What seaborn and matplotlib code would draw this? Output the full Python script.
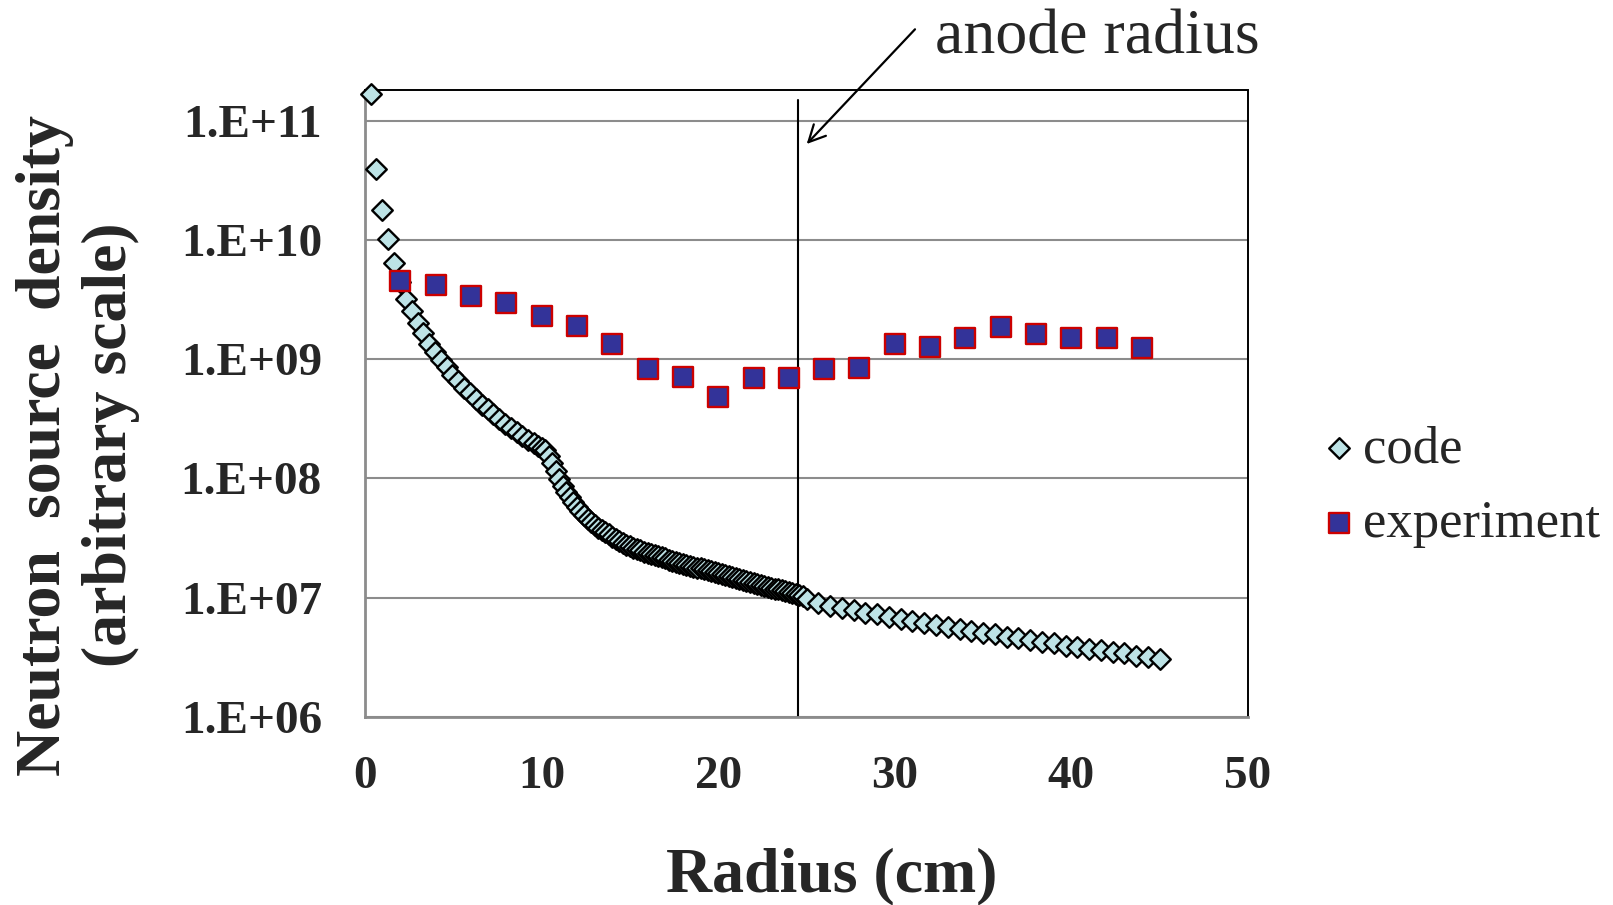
import numpy as np
import pandas as pd
import matplotlib
matplotlib.use("Agg")
import matplotlib.pyplot as plt
from matplotlib.ticker import FixedLocator, FuncFormatter, NullLocator
import seaborn as sns

# ---- simulated neutron source density (code), radius in cm, log10 of density ----
code_r_inner = [0.32, 0.64, 0.96, 1.30, 1.63, 1.96, 2.30, 2.64, 2.98, 3.30,
                3.64, 3.96, 4.28, 4.62, 4.95, 5.28, 5.61, 5.95, 6.29, 6.61,
                6.94, 7.27, 7.59, 7.93, 8.26, 8.59, 8.91, 9.25, 9.57]
code_log_inner = [11.221, 10.598, 10.249, 10.003, 9.807, 9.650, 9.508, 9.400, 9.303, 9.215,
                  9.131, 9.060, 8.991, 8.930, 8.871, 8.815, 8.762, 8.712, 8.664, 8.619,
                  8.580, 8.536, 8.496, 8.460, 8.423, 8.390, 8.354, 8.320, 8.293]

code_r_mid = [9.8, 10.0, 10.2, 10.4, 10.6, 10.8, 11.0, 11.2, 11.4, 11.6,
              11.8, 12.0, 12.2, 12.4, 12.6, 12.8, 13.0, 13.2, 13.4, 13.6,
              13.8, 14.0, 14.2, 14.4, 14.6, 14.8, 15.0, 15.2, 15.4, 15.6,
              15.8, 16.0, 16.2, 16.4, 16.6, 16.8, 17.0, 17.2, 17.4, 17.6,
              17.8, 18.0, 18.2, 18.4, 18.6, 18.8, 19.0, 19.2, 19.4, 19.6,
              19.8, 20.0, 20.2, 20.4, 20.6, 20.8, 21.0, 21.2, 21.4, 21.6,
              21.8, 22.0, 22.2, 22.4, 22.6, 22.8, 23.0, 23.2, 23.4, 23.6,
              23.8, 24.0, 24.2, 24.4, 24.6, 24.8]
code_log_mid = [8.270, 8.255, 8.235, 8.190, 8.130, 8.060, 7.995, 7.940, 7.890, 7.845,
                7.800, 7.760, 7.725, 7.690, 7.660, 7.635, 7.610, 7.588, 7.568, 7.550,
                7.530, 7.510, 7.490, 7.472, 7.458, 7.445, 7.432, 7.420, 7.408, 7.397,
                7.387, 7.377, 7.367, 7.357, 7.347, 7.338, 7.329, 7.320, 7.311, 7.302,
                7.294, 7.286, 7.278, 7.270, 7.261, 7.253, 7.245, 7.237, 7.229, 7.220,
                7.212, 7.204, 7.196, 7.188, 7.180, 7.172, 7.164, 7.156, 7.148, 7.140,
                7.132, 7.124, 7.116, 7.108, 7.100, 7.093, 7.085, 7.077, 7.069, 7.061,
                7.053, 7.045, 7.037, 7.029, 7.021, 7.013]

code_r_outer = [25.00, 25.67, 26.33, 27.00, 27.67, 28.33, 29.00, 29.67, 30.33, 31.00,
                31.67, 32.33, 33.00, 33.67, 34.33, 35.00, 35.67, 36.33, 37.00, 37.67,
                38.33, 39.00, 39.67, 40.33, 41.00, 41.67, 42.33, 43.00, 43.67, 44.33,
                45.00]
code_log_outer = [6.987, 6.958, 6.933, 6.916, 6.897, 6.874, 6.863, 6.841, 6.821, 6.807,
                  6.790, 6.771, 6.757, 6.738, 6.721, 6.707, 6.696, 6.673, 6.660, 6.645,
                  6.631, 6.618, 6.598, 6.584, 6.570, 6.562, 6.547, 6.534, 6.514, 6.500,
                  6.484]

# ---- measured neutron source density (experiment) ----
exp_r = [2, 4, 6, 8, 10, 12, 14, 16, 18, 20, 22,
         24, 26, 28, 30, 32, 34, 36, 38, 40, 42, 44]
exp_density = [4.48e9, 4.20e9, 3.40e9, 2.97e9, 2.30e9, 1.90e9, 1.33e9, 8.2e8, 7.1e8, 4.8e8, 7.0e8,
               7.0e8, 8.2e8, 8.5e8, 1.35e9, 1.27e9, 1.51e9, 1.85e9, 1.63e9, 1.50e9, 1.50e9, 1.25e9]

anode_radius = 24.5
y_ticks = [1e6, 1e7, 1e8, 1e9, 1e10, 1e11]
x_ticks = [0, 10, 20, 30, 40, 50]

code = pd.DataFrame({
    "radius": code_r_inner + code_r_mid + code_r_outer,
    "density": 10.0 ** np.array(code_log_inner + code_log_mid + code_log_outer),
})
experiment = pd.DataFrame({"radius": exp_r, "density": exp_density})

sns.set_theme(style="white")
plt.rcParams["font.family"] = ["Liberation Serif", "DejaVu Serif"]

W, H = 1613, 905
fig = plt.figure(figsize=(W / 100, H / 100), dpi=100)
ax = fig.add_axes([365 / W, 1 - 717 / H, (1248 - 365) / W, (717 - 90.5) / H])

sns.scatterplot(data=code, x="radius", y="density", marker="D", s=110,
                color="#BDE3E6", edgecolor="black", linewidth=1.7,
                label="code", ax=ax, zorder=3, clip_on=False)
sns.scatterplot(data=experiment, x="radius", y="density", marker="s", s=195,
                color="#333399", edgecolor="#CC0000", linewidth=1.7,
                label="experiment", ax=ax, zorder=4)

ax.set_yscale("log")
ax.set_xlim(0, 50)
ax.set_ylim(1e6, 10 ** 11.252)
ax.yaxis.set_major_locator(FixedLocator(y_ticks))
ax.yaxis.set_minor_locator(NullLocator())
ax.yaxis.set_major_formatter(FuncFormatter(lambda v, p: f"1.E+{int(round(np.log10(v))):02d}"))
ax.xaxis.set_major_locator(FixedLocator(x_ticks))

ax.grid(False)
ax.yaxis.grid(True, color="#8C8C8C", linewidth=1.5)
ax.set_axisbelow(True)

for side in ("left", "bottom"):
    ax.spines[side].set_color("#8C8C8C")
    ax.spines[side].set_linewidth(2.0)
for side in ("top", "right"):
    ax.spines[side].set_color("black")
    ax.spines[side].set_linewidth(1.4)

ax.tick_params(axis="y", which="major", length=4, width=1.5, color="#8C8C8C",
               pad=27, labelsize=34)
ax.tick_params(axis="x", which="major", length=0, pad=28, labelsize=34)
for lbl in ax.get_xticklabels() + ax.get_yticklabels():
    lbl.set_fontweight("bold")

# anode position marker
ax.axvline(anode_radius, ymin=0, ymax=0.985, color="black", linewidth=1.5, zorder=2)

ax.set_xlabel("Radius (cm)", fontsize=46, fontweight="bold")
ax.xaxis.label.set_verticalalignment("center")
ax.xaxis.set_label_coords(0.529, -0.254)
ax.set_ylabel("Neutron  source  density\n(arbitrary scale)", fontsize=46,
              fontweight="bold", linespacing=1.17)
ax.yaxis.label.set_verticalalignment("center")
ax.yaxis.set_label_coords(-0.325, 0.434)

# annotation arrow for the anode radius
ax.annotate("", xy=(806.7 / W, 1 - 144 / H), xycoords="figure fraction",
            xytext=(915 / W, 1 - 29.3 / H), textcoords="figure fraction",
            arrowprops=dict(arrowstyle="->", color="black", lw=1.6,
                            mutation_scale=30, shrinkA=0, shrinkB=0))
fig.text(935 / W, 1 - 39 / H, "anode radius", fontsize=46, ha="left", va="center")

ax.get_legend().remove()
handles, labels = ax.get_legend_handles_labels()
fig.legend(handles, labels, loc="center left",
           bbox_to_anchor=(1323 / W, 1 - 486.5 / H), frameon=False,
           fontsize=38, handlelength=0.6, handletextpad=0.15,
           labelspacing=0.5, borderpad=0, borderaxespad=0, markerscale=1.0)

fig.savefig("out.png", dpi=100)
